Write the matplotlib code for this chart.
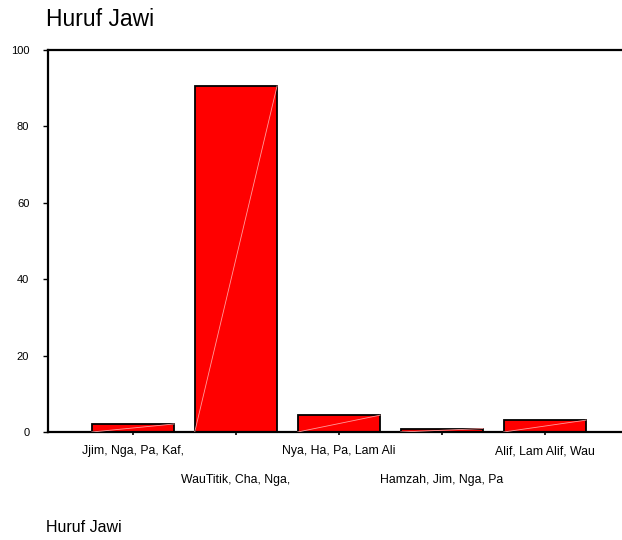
import matplotlib
matplotlib.use("Agg")
import matplotlib.pyplot as plt
import numpy as np

plt.rcParams['font.family'] = ['Liberation Sans', 'DejaVu Sans']

categories = ["Jjim, Nga, Pa, Kaf,", "WauTitik, Cha, Nga,", "Nya, Ha, Pa, Lam Ali",
              "Hamzah, Jim, Nga, Pa", "Alif, Lam Alif, Wau"]
values = [2.1, 90.6, 4.4, 0.9, 3.1]
yticks = [0, 20, 40, 60, 80, 100]

fig = plt.figure(figsize=(6.22, 5.4), dpi=100)
ax = fig.add_axes([48/622, 108/540, 574/622, 382/540])

x = np.arange(len(categories))
w = 0.8
bars = ax.bar(x, values, width=w, color='#ff0000', edgecolor='black', linewidth=1.3, zorder=2)
for xi, v in zip(x, values):
    ax.plot([xi - w/2, xi + w/2], [0, v], color='#ff9c9c', lw=0.6, zorder=3)

ax.set_xlim(-0.825, 4.75)
ax.set_ylim(0, 100)
ax.set_yticks(yticks)
ax.set_yticklabels([str(t) for t in yticks], fontsize=8)
ax.set_xticks(x)
ax.set_xticklabels(categories, fontsize=8.8)
ax.tick_params(axis='y', direction='out', length=3.5, width=1, pad=10)
ax.tick_params(axis='x', direction='out', length=2.5, width=1.2, pad=7)
for i, t in enumerate(ax.xaxis.get_major_ticks()):
    if i % 2 == 1:
        t.set_pad(27.5)

ax.spines['right'].set_visible(False)
for s in ['left', 'top', 'bottom']:
    ax.spines[s].set_linewidth(1.6)

fig.text(46/622, 1 - 20/540, "Huruf Jawi", fontsize=16.5, va='center', ha='left')
fig.text(46/622, 1 - 528/540, "Huruf Jawi", fontsize=11.5, va='center', ha='left')

fig.savefig("out.png", dpi=100)
